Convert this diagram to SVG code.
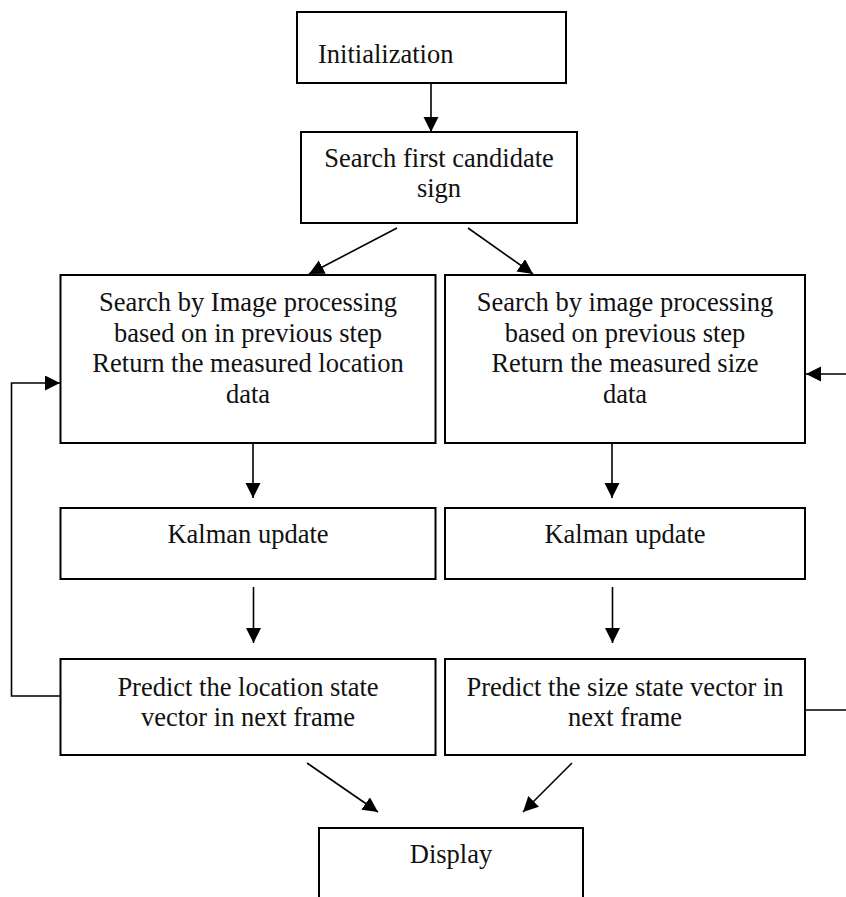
<svg xmlns="http://www.w3.org/2000/svg" width="846" height="897" viewBox="0 0 846 897">
<style>
.box{fill:#fff;stroke:#000;stroke-width:2}
.t{font-family:"Liberation Serif","Times New Roman",serif;font-size:26.5px;fill:#111}
.c{text-anchor:middle}
.ln{fill:none;stroke:#000;stroke-width:1.6}
</style>
<defs>
<marker id="ah" markerUnits="userSpaceOnUse" markerWidth="16" markerHeight="16" refX="15" refY="7.5" orient="auto">
<path d="M0,0 L15,7.5 L0,15 z" fill="#000"/>
</marker>
</defs>
<rect width="846" height="897" fill="#fff"/>
<g id="connectors">
<line class="ln" x1="431" y1="83" x2="431" y2="132" marker-end="url(#ah)"/>
<line class="ln" x1="397" y1="228" x2="309" y2="274" marker-end="url(#ah)"/>
<line class="ln" x1="468" y1="228" x2="533" y2="274" marker-end="url(#ah)"/>
<line class="ln" x1="253" y1="443" x2="253" y2="498" marker-end="url(#ah)"/>
<line class="ln" x1="612" y1="443" x2="612" y2="498" marker-end="url(#ah)"/>
<line class="ln" x1="253.5" y1="587" x2="253.5" y2="643" marker-end="url(#ah)"/>
<line class="ln" x1="612.5" y1="587" x2="612.5" y2="643" marker-end="url(#ah)"/>
<polyline class="ln" points="60,696 11.5,696 11.5,383 60,383" marker-end="url(#ah)"/>
<polyline class="ln" points="805,710 850,710 850,374 806,374" marker-end="url(#ah)"/>
<line class="ln" x1="307" y1="763" x2="378" y2="812" marker-end="url(#ah)"/>
<line class="ln" x1="572" y1="763" x2="523" y2="812" marker-end="url(#ah)"/>
</g>
<g id="init">
<rect class="box" x="297" y="12" width="269" height="71"/>
<text class="t" x="318" y="63">Initialization</text>
</g>
<g id="search-first">
<rect class="box" x="301" y="132" width="276" height="91"/>
<text class="t c" x="439" y="167">Search first candidate</text>
<text class="t c" x="439" y="197">sign</text>
</g>
<g id="search-location">
<rect class="box" x="60.5" y="275" width="375" height="168"/>
<text class="t c" x="248" y="311">Search by Image processing</text>
<text class="t c" x="248" y="341.5">based on in previous step</text>
<text class="t c" x="248" y="372">Return the measured location</text>
<text class="t c" x="248" y="402.5">data</text>
</g>
<g id="search-size">
<rect class="box" x="445" y="275" width="360" height="168"/>
<text class="t c" x="625" y="311">Search by image processing</text>
<text class="t c" x="625" y="341.5">based on previous step</text>
<text class="t c" x="625" y="372">Return the measured size</text>
<text class="t c" x="625" y="402.5">data</text>
</g>
<g id="kalman-left">
<rect class="box" x="60.5" y="508" width="375" height="71"/>
<text class="t c" x="248" y="543">Kalman update</text>
</g>
<g id="kalman-right">
<rect class="box" x="445" y="508" width="360" height="71"/>
<text class="t c" x="625" y="543">Kalman update</text>
</g>
<g id="predict-location">
<rect class="box" x="60.5" y="659" width="375" height="96"/>
<text class="t c" x="248" y="696">Predict the location state</text>
<text class="t c" x="248" y="726">vector in next frame</text>
</g>
<g id="predict-size">
<rect class="box" x="445" y="659" width="360" height="96"/>
<text class="t c" x="625" y="696">Predict the size state vector in</text>
<text class="t c" x="625" y="726">next frame</text>
</g>
<g id="display">
<path class="box" d="M319,900 L319,828 L583,828 L583,900"/>
<text class="t c" x="451" y="863">Display</text>
</g>
</svg>
